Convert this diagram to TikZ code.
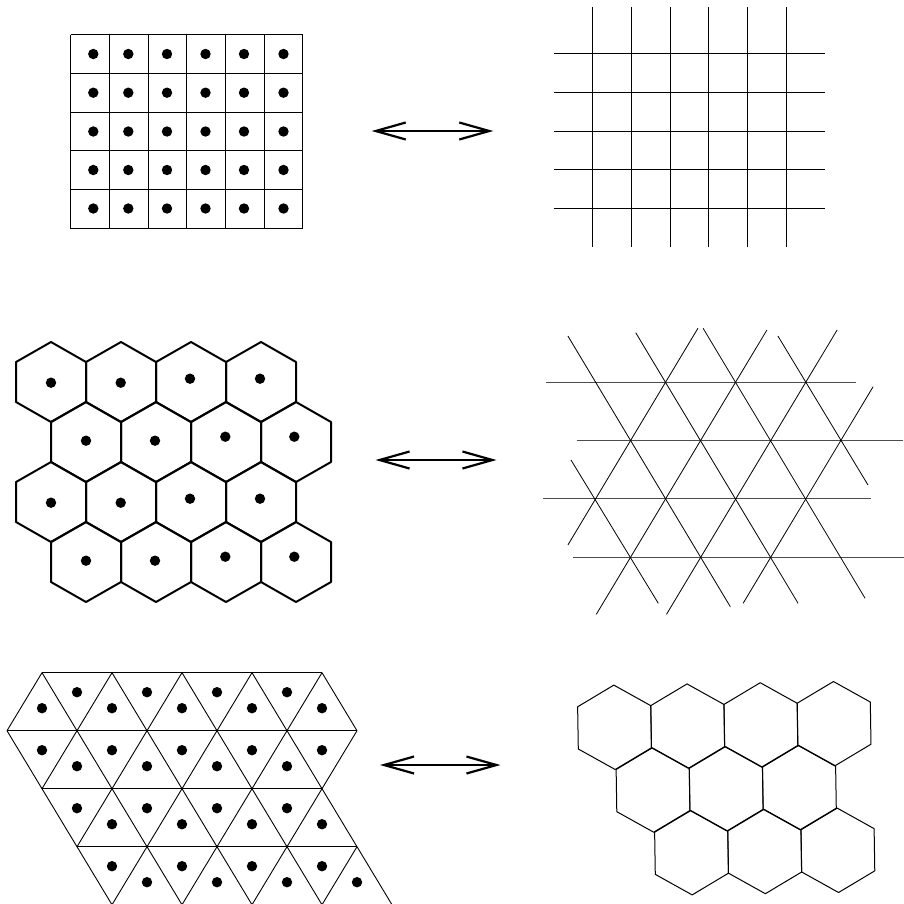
\documentclass[tikz,border=0pt]{standalone}
\usetikzlibrary{arrows.meta}
\begin{document}
\begin{tikzpicture}[x=1pt,y=-1pt,
  sqline/.style={line width=1pt},
  gridln/.style={line width=1.3pt},
  hexthick/.style={line width=2pt,line join=round},
  trihor/.style={line width=1.1pt,black!70},
  tridiag/.style={line width=0.8pt},
  triline/.style={line width=0.9pt},
  hexthin/.style={line width=1pt,line join=round},
  dotmark/.style={fill=black},
  dblarrow/.style={line width=1.5pt,
    {Straight Barb[length=30pt,width=17pt,line width=2.2pt]}-{Straight Barb[length=30pt,width=17pt,line width=2.2pt]}}]
\useasboundingbox (0,0) rectangle (904,903);
\def\dotr{5.2pt}

% ---------- Panel 1: square cells with dots
\foreach \x in {70.5,109.5,148.5,186.5,225.5,264.5,302.5} \draw[sqline] (\x,34.5) -- (\x,228.5);
\foreach \y in {34.5,73.5,112.5,150.5,189.5,228.5} \draw[sqline] (70.5,\y) -- (302.5,\y);
\foreach \x in {93.3,128.3,167,205.5,244,283.5}
  \foreach \y in {54,92.7,131.5,170,208.5}
    \fill[dotmark] (\x,\y) circle[radius=\dotr];

% ---------- Panel 2: square grid lines
\foreach \x in {592.5,631.5,670.5,708.5,747.5,786.5} \draw[gridln] (\x,7.3) -- (\x,247.3);
\foreach \y in {53.5,92.5,131.5,169.5,208.5} \draw[gridln] (554,\y) -- (825,\y);

% ---------- Panel 3: hexagons with dots
\foreach \r in {0,...,3}
  \foreach \k in {0,...,3} {
    \pgfmathsetmacro\cx{51+70*\k+35*mod(\r,2)}
    \pgfmathsetmacro\cy{382+60*\r}
    \draw[hexthick] (\cx,\cy) ++(0,-40) -- ++(35,20) -- ++(0,40) -- ++(-35,20)
      -- ++(-35,-20) -- ++(0,-40) -- cycle;
  }
\foreach \x/\y in {51/382.7, 120.7/382.7, 190/378.7, 260/378.7,
                   86/440.7, 155/440.7, 225.3/436.7, 294.3/436.7,
                   51/502.7, 120.7/502.7, 190/498.7, 260/498.7,
                   86/560.7, 155/560.7, 225.3/556.7, 294.3/556.7}
  \fill[dotmark] (\x,\y) circle[radius=\dotr];

% ---------- Panel 4: triangular line arrangement
\draw[trihor] (546,382.3) -- (856,382.3);
\draw[trihor] (577.3,440.6) -- (903,440.6);
\draw[trihor] (542.7,498.9) -- (871.3,498.9);
\draw[trihor] (573.3,557.2) -- (904,557.2);
\draw[tridiag] (567.9,336) -- (730.3,606.7);
\draw[tridiag] (635.7,332.7) -- (798.1,603.3);
\draw[tridiag] (703.1,328.3) -- (865.1,598.3);
\draw[tridiag] (777.9,336) -- (868,485);
\draw[tridiag] (571,460) -- (658.3,603.3);
\draw[tridiag] (697.9,328.3) -- (567.9,545);
\draw[tridiag] (766.9,330) -- (596.3,614.3);
\draw[tridiag] (837.1,330) -- (666.5,614.3);
\draw[tridiag] (873.1,386.7) -- (743.1,603.3);

% ---------- Panel 5: triangles with dots
\def\ya{672.7}\def\yb{730.7}\def\yc{788.7}\def\yd{846.7}\def\ye{904.7}
\draw[triline] (42,\ya) -- (322,\ya);
\draw[triline] (7,\yb) -- (357,\yb);
\draw[triline] (42,\yc) -- (322,\yc);
\draw[triline] (77,\yd) -- (357,\yd);
\foreach \k in {0,...,4} {
  \draw[triline] ({42+70*\k},\ya) -- ({77+70*\k},\yb);
  \draw[triline] ({42+70*\k},\ya) -- ({7+70*\k},\yb);
  \draw[triline] ({7+70*\k},\yb) -- ({42+70*\k},\yc);
  \draw[triline] ({77+70*\k},\yb) -- ({42+70*\k},\yc);
  \draw[triline] ({42+70*\k},\yc) -- ({77+70*\k},\yd);
  \draw[triline] ({77+70*\k},\yd) -- ({112+70*\k},\ye);
}
\foreach \k in {0,...,3} {
  \draw[triline] ({112+70*\k},\yc) -- ({77+70*\k},\yd);
  \draw[triline] ({147+70*\k},\yd) -- ({112+70*\k},\ye);
}
\foreach \k in {0,...,4} {
  \fill[dotmark] ({42+70*\k},708.2) circle[radius=\dotr];
  \fill[dotmark] ({42+70*\k},750.2) circle[radius=\dotr];
}
\foreach \k in {0,...,3} {
  \fill[dotmark] ({77+70*\k},692.2) circle[radius=\dotr];
  \fill[dotmark] ({77+70*\k},766.2) circle[radius=\dotr];
  \fill[dotmark] ({77+70*\k},808.2) circle[radius=\dotr];
  \fill[dotmark] ({112+70*\k},824.2) circle[radius=\dotr];
  \fill[dotmark] ({112+70*\k},866.2) circle[radius=\dotr];
  \fill[dotmark] ({147+70*\k},882.2) circle[radius=\dotr];
}

% ---------- Panel 6: hexagon patch
\foreach \r/\kmax in {0/3,1/2,2/2}
  \foreach \k in {0,...,\kmax} {
    \pgfmathsetmacro\cx{614.5+38.5*\r+73.2*\k}
    \pgfmathsetmacro\cy{727.3+62.7*\r-1.2*\k}
    \draw[hexthin,shift={(\cx,\cy)},rotate=0.9]
      (30:42.2pt) -- (90:42.2pt) -- (150:42.2pt) -- (210:42.2pt)
      -- (270:42.2pt) -- (330:42.2pt) -- cycle;
  }

% ---------- Double arrows
\coordinate (a1l) at (371.7,131); \coordinate (a1r) at (493.3,131);
\coordinate (a2l) at (375.5,460); \coordinate (a2r) at (496.5,460);
\coordinate (a3l) at (380,765);   \coordinate (a3r) at (500.5,765);
\draw[dblarrow] (a1l) -- (a1r);
\draw[dblarrow] (a2l) -- (a2r);
\draw[dblarrow] (a3l) -- (a3r);
\end{tikzpicture}
\end{document}
